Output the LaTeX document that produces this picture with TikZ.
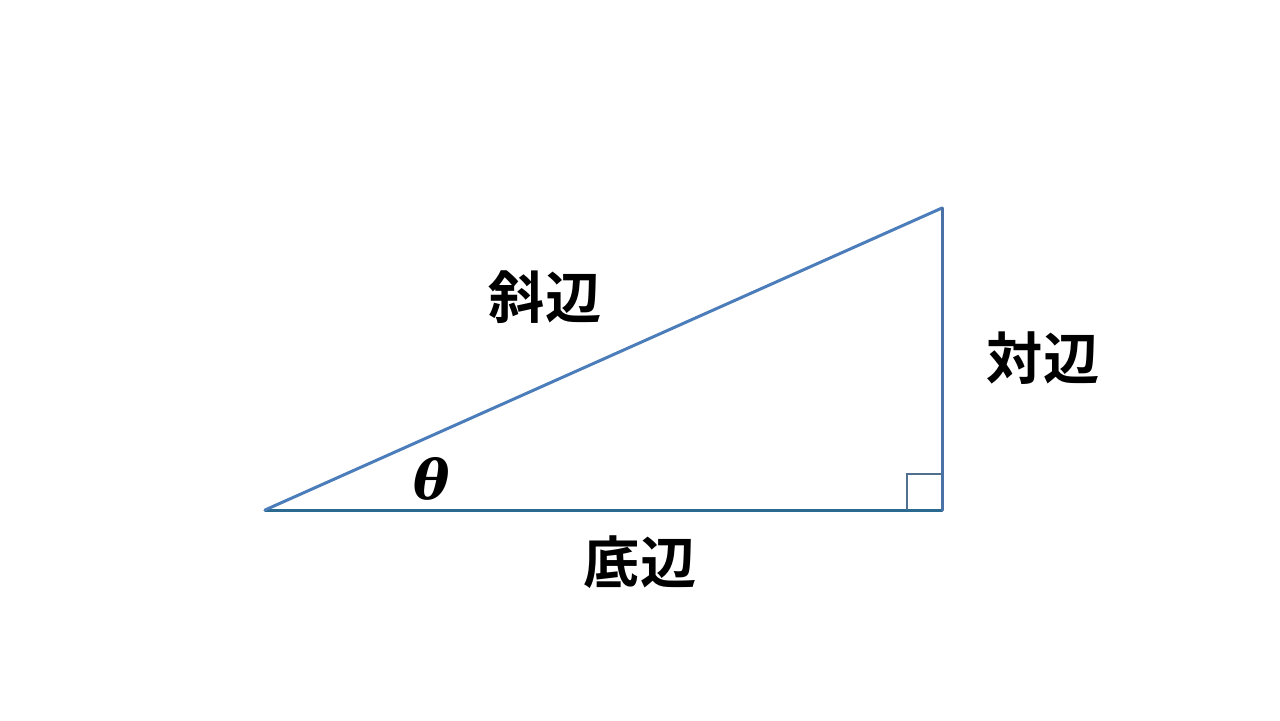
\documentclass[tikz,border=0pt]{standalone}
\usepackage{fontspec}
\newfontfamily\jpfont{Noto Sans CJK JP}[BoldFont={Noto Sans CJK JP Bold}]
\newfontfamily\greekfont{DejaVu Serif}
\usepackage{tikz}
\usetikzlibrary{positioning}
\definecolor{baseblue}{HTML}{2A6A90}
\definecolor{hypblue}{HTML}{4A7DBA}
\definecolor{sideblue}{HTML}{4A72A6}
\definecolor{markblue}{HTML}{50708F}
\tikzset{
  lado/.style={font=\jpfont\bfseries\fontsize{32}{36}\selectfont, inner sep=0pt}
}
\begin{document}
\begin{tikzpicture}[x=0.02cm,y=-0.02cm]
    \useasboundingbox (0,0) rectangle (1280,720);
    \fill[white] (0,0) rectangle (1280,720);

    % Vértices do triângulo
    \coordinate (A) at (265,510);
    \coordinate (B) at (942,510);
    \coordinate (C) at (942,208);

    % Lados
    \draw[baseblue, line width=1.7pt, line cap=round] (A) -- (B);
    \draw[hypblue, line width=1.7pt, line cap=round] (A) -- (C);
    \draw[sideblue, line width=1.7pt, line cap=round] (B) -- (C);

    % Ângulo reto
    \draw[markblue, line width=0.8pt] (907,510) -- (907,474) -- (942,474);

    % Rótulos
    \node[lado] (hip) at (545,297) {斜辺};
    \node[lado] (opo) at (1043,358) {対辺};
    \node[lado] (adj) at (640,562) {底辺};
    \node[inner sep=0pt, font=\greekfont\itshape\fontsize{31}{36}\selectfont] (ang) at (432,479) {\textbf{θ}};
\end{tikzpicture}
\end{document}
